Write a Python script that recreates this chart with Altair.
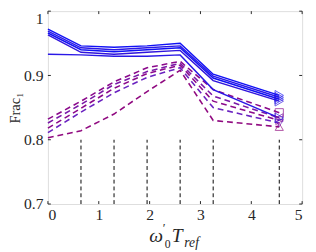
import altair as alt
import pandas as pd

# ---------------- data ----------------
x_vals = [0, 0.65, 1.3, 1.95, 2.6, 3.25, 4.55]

blue_names = ["B1", "B2", "B3", "B4", "B5"]
blue_series = [
    [0.972, 0.946, 0.944, 0.946, 0.950, 0.902, 0.869],
    [0.969, 0.943, 0.940, 0.943, 0.946, 0.899, 0.866],
    [0.966, 0.940, 0.937, 0.940, 0.943, 0.896, 0.863],
    [0.963, 0.936, 0.933, 0.936, 0.939, 0.892, 0.860],
    [0.933, 0.932, 0.930, 0.930, 0.932, 0.878, 0.834],
]
blue_colors = ["#1010f5", "#2a18e6", "#1010f5", "#3014dc", "#2a18e6"]

purple_names = ["P1", "P2", "P3", "P4", "P5"]
purple_series = [
    [0.832, 0.860, 0.890, 0.912, 0.922, 0.878, 0.842],
    [0.826, 0.855, 0.886, 0.906, 0.919, 0.868, 0.834],
    [0.818, 0.849, 0.880, 0.903, 0.916, 0.860, 0.830],
    [0.811, 0.843, 0.873, 0.897, 0.912, 0.850, 0.826],
    [0.803, 0.814, 0.840, 0.875, 0.908, 0.830, 0.820],
]
purple_colors = ["#8b0a8b", "#7a18a8", "#8b0a8b", "#6a22c0", "#900a80"]
purple_shapes = ["square", "triangle-left", "triangle-right", "triangle-down", "triangle-up"]

vline_x = [0.65, 1.3, 1.95, 2.6, 3.25, 4.55]
vline_lo, vline_hi = 0.7, 0.8

x_ticks = [0, 1, 2, 3, 4, 5]
y_ticks = [0.7, 0.8, 0.9, 1.0]

# ---------------- tables ----------------
def long_df(names, series, key):
    rows = []
    for n, s in zip(names, series):
        for xv, yv in zip(x_vals, s):
            rows.append({key: n, "x": xv, "y": yv})
    return pd.DataFrame(rows)

df_blue = long_df(blue_names, blue_series, "bser")
df_purple = long_df(purple_names, purple_series, "pser")
end_blue = df_blue[df_blue.x == x_vals[-1]]
end_purple = df_purple[df_purple.x == x_vals[-1]]
df_v = pd.DataFrame({"x": vline_x, "y": [vline_lo] * len(vline_x), "y2": [vline_hi] * len(vline_x)})
df_xt = pd.DataFrame({"x": x_ticks})
df_yt = pd.DataFrame({"y": y_ticks})

W, H = 261, 198
SERIF = "Liberation Serif"
AX = "#262626"

xs = alt.Scale(domain=[0, 5], nice=False, zero=False)
ys = alt.Scale(domain=[0.7, 1.0], nice=False, zero=False)

xenc = alt.X("x:Q", scale=xs, axis=alt.Axis(
    values=x_ticks, title=None, ticks=False, domain=False, grid=False,
    labelFont=SERIF, labelFontSize=16, labelColor=AX, labelPadding=3, format="d"))
yenc = alt.Y("y:Q", scale=ys, axis=alt.Axis(
    values=y_ticks, title="Frac₁", ticks=False, domain=False, grid=False,
    labelFont=SERIF, labelFontSize=16, labelColor=AX, labelPadding=5,
    labelBaseline={"condition": {"test": "datum.value == 1", "value": "top"}, "value": "middle"},
    labelExpr="datum.value == 1 ? '1' : format(datum.value, '.1f')",
    titleFont=SERIF, titleFontSize=15, titleFontWeight="normal", titleColor=AX,
    titleX=-26, titleY=H / 2, titleAngle=270, titleBaseline="bottom", titleAlign="center"))

bcol = alt.Color("bser:N", scale=alt.Scale(domain=blue_names, range=blue_colors), legend=None)
pcol = alt.Color("pser:N", scale=alt.Scale(domain=purple_names, range=purple_colors), legend=None)

vlines = alt.Chart(df_v).mark_rule(color="black", strokeWidth=1, strokeDash=[4, 3]).encode(
    x=xenc, y=yenc, y2="y2:Q")

purple_lines = alt.Chart(df_purple).mark_line(strokeWidth=1.6, strokeDash=[6, 4]).encode(
    x="x:Q", y="y:Q", color=pcol, detail="pser:N")
blue_lines = alt.Chart(df_blue).mark_line(strokeWidth=1.5).encode(
    x="x:Q", y="y:Q", color=bcol, detail="bser:N")

purple_pts = alt.Chart(end_purple).mark_point(filled=False, size=70, strokeWidth=1).encode(
    x="x:Q", y="y:Q", color=pcol,
    shape=alt.Shape("pser:N", scale=alt.Scale(domain=purple_names, range=purple_shapes), legend=None))
blue_pts = alt.Chart(end_blue).mark_point(filled=False, size=100, strokeWidth=1, shape="triangle-right").encode(
    x="x:Q", y="y:Q", color=bcol)

# inward ticks
tick_len = 3
xt_bot = alt.Chart(df_xt).mark_rule(color=AX, strokeWidth=1).encode(
    x="x:Q", y=alt.value(H), y2=alt.value(H - tick_len))
xt_top = alt.Chart(df_xt).mark_rule(color=AX, strokeWidth=1).encode(
    x="x:Q", y=alt.value(0), y2=alt.value(tick_len))
yt_left = alt.Chart(df_yt).mark_rule(color=AX, strokeWidth=1).encode(
    y="y:Q", x=alt.value(0), x2=alt.value(tick_len))
yt_right = alt.Chart(df_yt).mark_rule(color=AX, strokeWidth=1).encode(
    y="y:Q", x=alt.value(W), x2=alt.value(W - tick_len))

# x-axis title: ω'_0 T_ref
def txt(s, x, y, size, italic=True, align="left"):
    return alt.Chart(pd.DataFrame({"t": [s]})).mark_text(
        font=SERIF, fontSize=size, fontStyle="italic" if italic else "normal",
        color=AX, align=align, baseline="alphabetic").encode(
        text="t:N", x=alt.value(x), y=alt.value(y))

t_omega = txt("ω", 104, 237, 20)
t_prime = txt("′", 118, 227, 13, italic=False)
t_zero = txt("0", 120, 243, 12, italic=False)
t_T = txt("T", 127, 237, 20)
t_ref = txt("ref", 140, 242, 14)

chart = alt.layer(
    vlines, purple_lines, blue_lines, purple_pts, blue_pts,
    xt_bot, xt_top, yt_left, yt_right,
    t_omega, t_prime, t_zero, t_T, t_ref,
).resolve_scale(color="independent", shape="independent").properties(
    width=W, height=H,
    autosize=alt.AutoSizeParams(type="none"),
    padding={"left": 41, "top": 0, "right": 6, "bottom": 46},
).configure_view(stroke=AX, strokeWidth=1).configure(background="white")

chart.save("out.html", embed_options={"renderer": "svg", "actions": False})
